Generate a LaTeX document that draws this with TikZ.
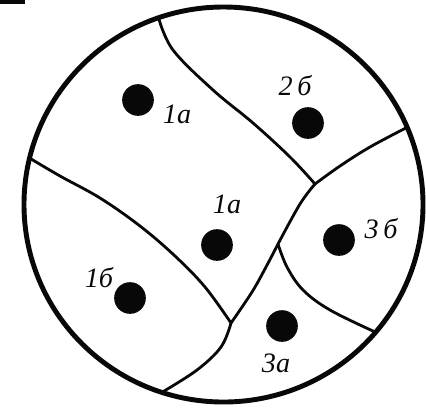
\documentclass[tikz,border=0pt]{standalone}
\usepackage{fontspec}
\setmainfont{Liberation Serif}
\usepackage{tikz}
\usepackage{xcolor}
\usetikzlibrary{calc}
\definecolor{inkBlack}{RGB}{8,8,8}
\tikzset{
    rim/.style={draw=inkBlack, line width=4.2pt},
    border/.style={draw=inkBlack, line width=2.4pt, line join=round, line cap=round},
    spot/.style={circle, fill=inkBlack, inner sep=0pt, minimum size=0.95cm},
    tag/.style={anchor=base, inner sep=0pt, font=\fontsize{24}{28}\selectfont\itshape, text=inkBlack}
}

\begin{document}
\begin{tikzpicture}[x=0.03cm, y=-0.03cm]
    \useasboundingbox (0,0) rectangle (426,407);
    \fill[inkBlack] (0,0) rectangle (25,3.5);
    % outer rim and where the borders meet it
    \coordinate (c) at (223.5,204.5);
    \draw[rim] (c) ellipse [x radius=5.985cm, y radius=5.925cm];
    \coordinate (rimtop) at ([shift={(109:5.985cm and 5.925cm)}]c);
    \coordinate (rimright) at ([shift={(23:5.985cm and 5.925cm)}]c);
    \coordinate (rimleft) at ([shift={(166.4:5.985cm and 5.925cm)}]c);
    \coordinate (rimlowright) at ([shift={(-40.3:5.985cm and 5.925cm)}]c);
    \coordinate (rimbottom) at ([shift={(-108:5.985cm and 5.925cm)}]c);
    % inner junctions
    \coordinate (jupper) at (315,184);
    \coordinate (jmid) at (278,244);
    \coordinate (jlow) at (231,323);
    % borders between the zones
    \draw[border] plot[smooth, tension=0.6] coordinates {(rimtop) (173,50) (213,90) (253,123) (290,157) (jupper)};
    \draw[border] plot[smooth, tension=0.6] coordinates {(jupper) (340,166) (370,147) (rimright)};
    \draw[border] plot[smooth, tension=0.6] coordinates {(jupper) (300,204) (jmid)};
    \draw[border] plot[smooth, tension=0.6] coordinates {(jmid) (266,267) (252,292) (jlow)};
    \draw[border] plot[smooth, tension=0.6] coordinates {(jlow) (221,347) (197,370) (rimbottom)};
    \draw[border] plot[smooth, tension=0.6] coordinates {(rimleft) (60,176) (100,198) (140,226) (175,256) (205,287) (jlow)};
    \draw[border] plot[smooth, tension=0.6] coordinates {(jmid) (287,267) (303,290) (330,310) (rimlowright)};
    % sampling points
    \node[spot] (s1a) at (138,100) {};
    \node[spot] (s2b) at (308,123) {};
    \node[spot] (m1a) at (217,245) {};
    \node[spot] (s3b) at (339,240) {};
    \node[spot] (s1b) at (130,298) {};
    \node[spot] (s3a) at (282,326) {};
    \node[tag] (t1a) at (177,123) {1а};
    \node[tag] (t2b) at (295,95) {2\,б};
    \node[tag] (tm1a) at (227,213) {1а};
    \node[tag] (t3b) at (381,238) {3\,б};
    \node[tag] (t1b) at (99,287) {1б};
    \node[tag] (t3a) at (276,372) {3а};
\end{tikzpicture}
\end{document}
